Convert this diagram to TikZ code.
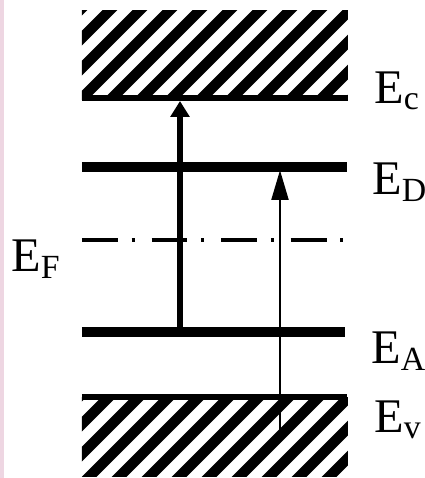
\documentclass[tikz,border=0pt]{standalone}
\usepackage{fontspec}
\setmainfont{Liberation Serif}
\usetikzlibrary{arrows.meta}
\definecolor{slide_pink}{RGB}{238,214,226}

\begin{document}
\begin{tikzpicture}[x=0.02cm, y=-0.02cm,
    levelline/.style={line width=5.4pt},
    bandedge/.style={line width=3.2pt},
    hatch/.style={line width=6pt},
    lbl/.style={anchor=base west, inner sep=0pt, font=\fontsize{27.5}{30}\selectfont}]
  \useasboundingbox (0,0) rectangle (425,478);
  \fill[slide_pink] (0,0) rectangle (4,478);
  % conduction band
  \begin{scope}
    \clip (82,10) rectangle (348,99);
    \foreach \i in {-110,-80,...,360}
      \draw[hatch] (\i,110) -- ++(110,-110);
  \end{scope}
  % valence band
  \begin{scope}
    \clip (82,397) rectangle (348,476);
    \foreach \i in {-100,-70,...,360}
      \draw[hatch] (\i,486) -- ++(100,-100);
  \end{scope}
  % levels
  \coordinate (cl) at (82,98);   \coordinate (cr) at (348,98);
  \coordinate (dl) at (82,167);  \coordinate (dr) at (347,167);
  \coordinate (fl) at (82,240);  \coordinate (fr) at (347,240);
  \coordinate (al) at (82,332);  \coordinate (ar) at (345,332);
  \coordinate (vl) at (82,397);  \coordinate (vr) at (347,397);
  \draw[bandedge] (cl) -- (cr);
  \draw[levelline] (dl) -- (dr);
  \draw[line width=2.8pt, dash pattern=on 20.4pt off 7.9pt on 1.7pt off 9.6pt] (fl) -- (fr);
  \draw[levelline] (al) -- (ar);
  \draw[bandedge] (vl) -- (vr);
  % transitions
  \coordinate (a1) at (180,332); \coordinate (c1) at (180,101);
  \coordinate (v2) at (280,433); \coordinate (d2) at (280,170);
  \draw[line width=3pt, -{Triangle[length=9pt, width=10.5pt]}] (a1) -- (c1);
  \draw[line width=1.7pt, -{Triangle[length=17pt, width=9.5pt]}] (v2) -- (d2);
  % labels
  \node[lbl] (lc) at (374,103) {E\textsubscript{c}};
  \node[lbl] (ld) at (372,194) {E\textsubscript{D}};
  \node[lbl] (lf) at (11,271) {E\textsubscript{F}};
  \node[lbl] (la) at (371,363) {E\textsubscript{A}};
  \node[lbl] (lv) at (374,432) {E\textsubscript{v}};
\end{tikzpicture}
\end{document}
